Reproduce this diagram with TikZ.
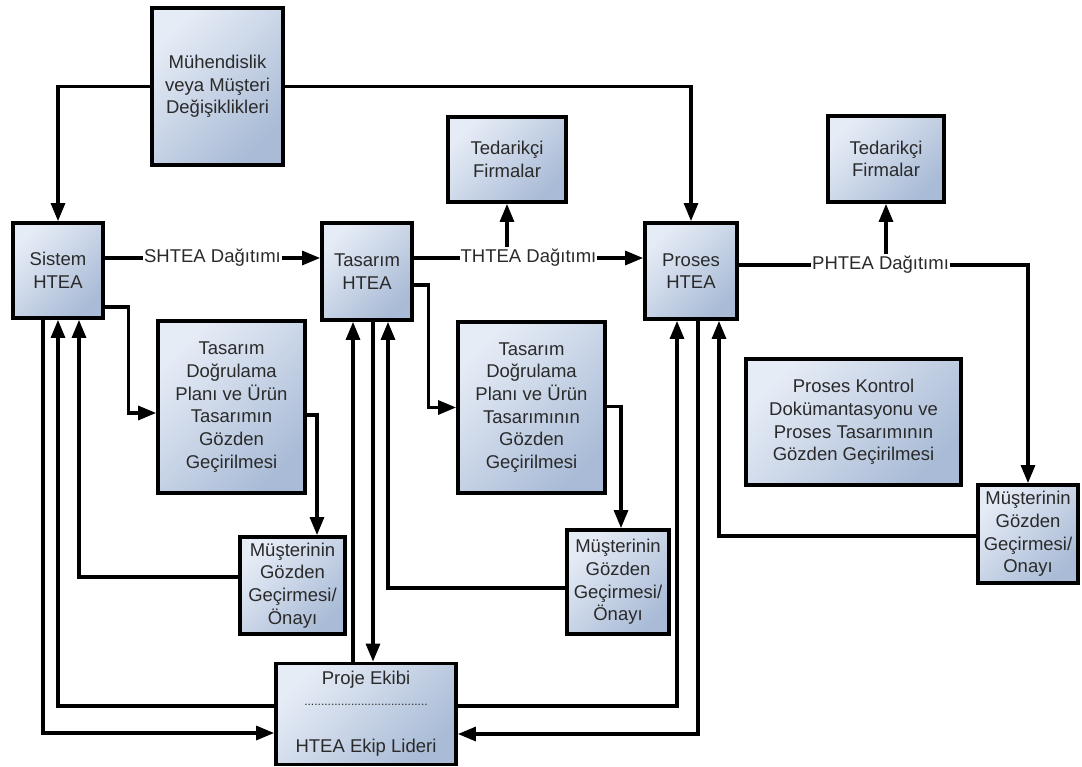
\documentclass[tikz,border=0pt]{standalone}
\usepackage{fontspec}
\setmainfont{Liberation Sans}
\usetikzlibrary{arrows.meta,calc}
\definecolor{boxlight}{HTML}{E6ECF6}
\definecolor{boxdark}{HTML}{A9BBD6}
\definecolor{txt}{HTML}{2A2A2A}
\tikzset{
  blk/.style={draw=black, line width=3.8pt, top color=boxlight, bottom color=boxdark, shading angle=45,
    align=center, text=txt, inner sep=0pt, font=\fontsize{18.5}{22.7}\selectfont},
  conn/.style={line width=3.1pt, draw=black},
  arr/.style={conn, -{Triangle[length=18pt,width=14pt]}},
  lbl/.style={fill=white, inner sep=1pt, text=txt, font=\fontsize{18.5}{22.7}\selectfont},
  plain/.style={text=txt, inner sep=0pt, font=\fontsize{18.5}{22.7}\selectfont},
}
\begin{document}
\begin{tikzpicture}[x=1pt,y=-1pt]
\useasboundingbox (0,0) rectangle (1082,767);
% nodes
\node[blk, minimum width=131pt, minimum height=157pt] (muh) at (217.5,86.5) {Mühendislik\\veya Müşteri\\Değişiklikleri};
\node[blk, minimum width=90pt, minimum height=95pt] (sis) at (58,270.5) {Sistem\\HTEA};
\node[blk, minimum width=90pt, minimum height=97pt] (tas) at (367,271.5) {Tasarım\\HTEA};
\node[blk, minimum width=92pt, minimum height=96pt] (pro) at (691,271) {Proses\\HTEA};
\node[blk, minimum width=118pt, minimum height=85pt] (ted1) at (507,159.5) {Tedarikçi\\Firmalar};
\node[blk, minimum width=116pt, minimum height=86pt] (ted2) at (886,159) {Tedarikçi\\Firmalar};
\node[blk, minimum width=147pt, minimum height=172pt] (tdp1) at (231.5,407) {Tasarım\\Doğrulama\\Planı ve Ürün\\Tasarımın\\Gözden\\Geçirilmesi};
\node[blk, minimum width=147pt, minimum height=171pt] (tdp2) at (531.5,407.5) {Tasarım\\Doğrulama\\Planı ve Ürün\\Tasarımının\\Gözden\\Geçirilmesi};
\node[blk, minimum width=105pt, minimum height=97pt] (mus1) at (292.5,585.5) {Müşterinin\\Gözden\\Geçirmesi/\\Önayı};
\node[blk, minimum width=102pt, minimum height=104pt] (mus2) at (618,582) {Müşterinin\\Gözden\\Geçirmesi/\\Önayı};
\node[blk, minimum width=100pt, minimum height=98pt] (mus3) at (1028,534) {Müşterinin\\Gözden\\Geçirmesi/\\Onayı};
\node[blk, minimum width=215pt, minimum height=126pt] (pkd) at (853.5,422) {Proses Kontrol\\Dokümantasyonu ve\\Proses Tasarımının\\Gözden Geçirilmesi};
\node[blk, minimum width=180pt, minimum height=101pt] (proje) at (366,714) {};
\node[plain] (projeA) at (366,680) {Proje Ekibi};
\node[plain, font=\fontsize{12}{14}\selectfont] (projeB) at (366,705) {.....................................};
\node[plain] (projeC) at (366,748) {HTEA Ekip Lideri};

% connectors from change box
\draw[arr] (muh.west) -| (sis.north);
\draw[arr] (muh.east) -| (pro.north);

% distribution lines
\coordinate (s1) at ([yshift=12.5pt]sis.east);
\draw[arr] (s1) -- node[lbl] (shl) {SHTEA Dağıtımı} (s1 -| tas.west);
\coordinate (t1) at ([yshift=13.5pt]tas.east);
\draw[arr] (t1) -- node[lbl] (thl) {THTEA Dağıtımı} (t1 -| pro.west);
\draw[arr] (ted1.south |- thl.north) -- (ted1.south);
\coordinate (p1) at ([yshift=6pt]pro.east);
\draw[arr] (p1) -- node[lbl, pos=0.49] (phl) {PHTEA Dağıtımı} (p1 -| mus3.north) -- (mus3.north);
\draw[arr] (ted2.south |- phl.north) -- (ted2.south);

% system level
\draw[arr] ([yshift=-36.5pt]sis.east) -- ++(24,0) |- ([yshift=-6pt]tdp1.west);
\draw[arr] ([yshift=-8pt]tdp1.east) -| ([xshift=24.5pt]mus1.north);
\draw[arr] ([yshift=8.5pt]mus1.west) -| ([xshift=21pt]sis.south);
\draw[arr] ([yshift=8pt]proje.west) -| (sis.south);
\draw[arr] ([xshift=-15pt]sis.south) |- ([yshift=-19pt]proje.west);

% design level
\draw[arr] ([yshift=-13.5pt]tas.east) -- ++(15,0) |- (tdp2.west);
\draw[arr] ([yshift=1pt]tdp2.east) -| ([xshift=3pt]mus2.north);
\draw[arr] ([yshift=-6pt]mus2.west) -| ([xshift=21pt]tas.south);
\draw[arr] ([xshift=-13pt]proje.north) -- ([xshift=-14pt]tas.south);
\draw[arr] ([xshift=6pt]tas.south) -- ([xshift=7pt]proje.north);

% process level
\draw[arr] ([yshift=8pt]proje.east) -| ([xshift=-14pt]pro.south);
\draw[arr] ([xshift=7pt]pro.south) |- ([yshift=-20pt]proje.east);
\draw[arr] ([yshift=-2pt]mus3.west) -| ([xshift=28pt]pro.south);
\end{tikzpicture}
\end{document}
